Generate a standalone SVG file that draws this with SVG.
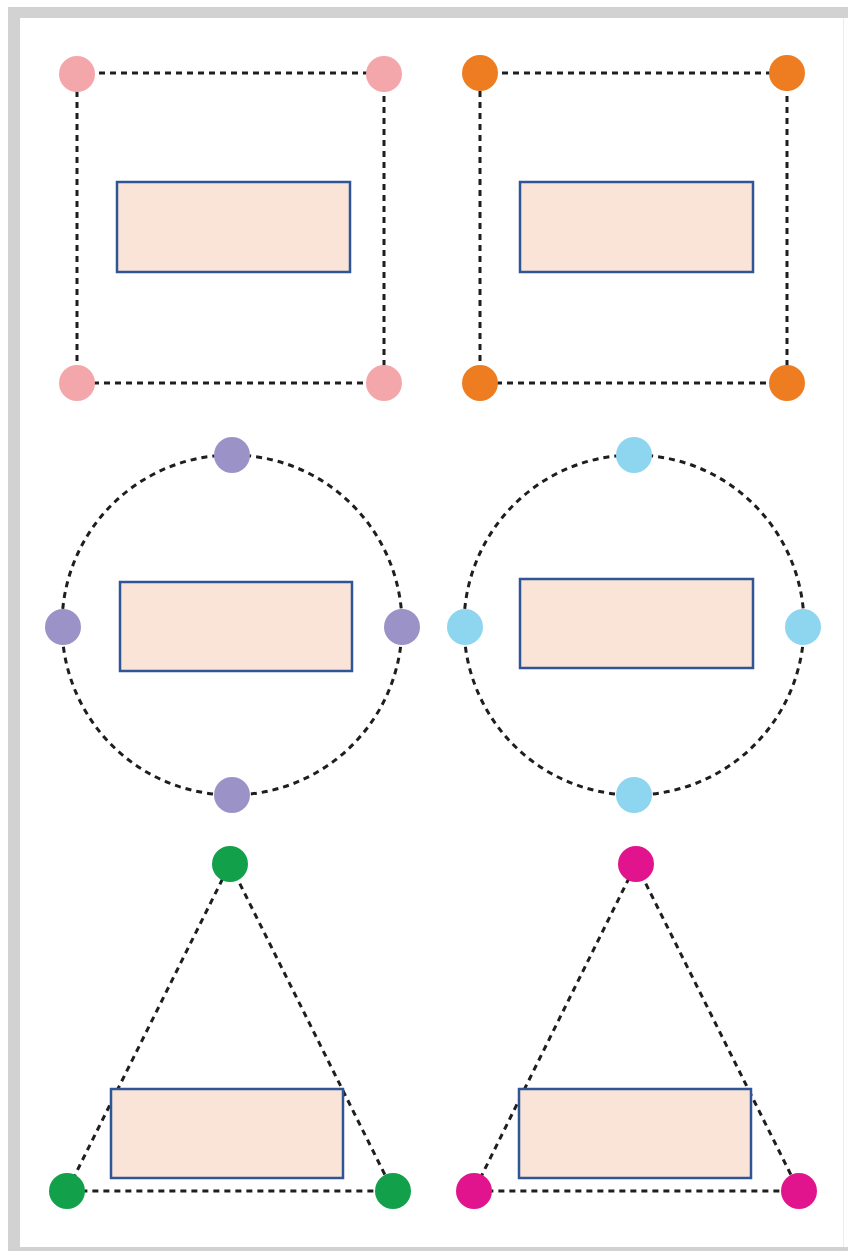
<svg xmlns="http://www.w3.org/2000/svg" width="848" height="1251" viewBox="0 0 848 1251">
<style>
.c{fill:none;stroke:#1e1e1e;stroke-width:3;stroke-dasharray:6 5;stroke-linecap:butt}
.b{fill:#FAE4D7;stroke:#2F5597;stroke-width:2.5}
.pink{fill:#F4A7AB}.orange{fill:#EE7D22}.purple{fill:#9B93C7}.blue{fill:#8ED6F0}.green{fill:#13A04B}.mag{fill:#E2148D}
</style>
<rect x="0" y="0" width="848" height="1251" fill="#ffffff"/>
<rect x="8" y="7" width="846" height="1250" fill="#D2D2D2"/>
<rect x="20" y="18" width="830" height="1229" fill="#ffffff"/>
<line x1="843.5" y1="18" x2="843.5" y2="1247" stroke="#ececec" stroke-width="1"/>
<g id="connectors">
<path class="c" d="M77 73H384V383H77Z"/>
<path class="c" d="M480 73H787V383H480Z"/>
<circle class="c" cx="232" cy="625" r="170"/>
<circle class="c" cx="634" cy="625" r="170"/>
<path class="c" d="M230 864L393 1191H67Z"/>
<path class="c" d="M636 864L799 1191H474Z"/>
</g>
<g id="panel1">
<rect class="b" x="117" y="182" width="233" height="90"/>
<circle class="pink" cx="77" cy="74" r="18"/><circle class="pink" cx="384" cy="74" r="18"/>
<circle class="pink" cx="77" cy="383" r="18"/><circle class="pink" cx="384" cy="383" r="18"/>
</g>
<g id="panel2">
<rect class="b" x="520" y="182" width="233" height="90"/>
<circle class="orange" cx="480" cy="73" r="18"/><circle class="orange" cx="787" cy="73" r="18"/>
<circle class="orange" cx="480" cy="383" r="18"/><circle class="orange" cx="787" cy="383" r="18"/>
</g>
<g id="panel3">
<rect class="b" x="120" y="582" width="232" height="89"/>
<circle class="purple" cx="232" cy="455" r="18"/><circle class="purple" cx="232" cy="795" r="18"/>
<circle class="purple" cx="63" cy="627" r="18"/><circle class="purple" cx="402" cy="627" r="18"/>
</g>
<g id="panel4">
<rect class="b" x="520" y="579" width="233" height="89"/>
<circle class="blue" cx="634" cy="455" r="18"/><circle class="blue" cx="634" cy="795" r="18"/>
<circle class="blue" cx="465" cy="627" r="18"/><circle class="blue" cx="803" cy="627" r="18"/>
</g>
<g id="panel5">
<rect class="b" x="111" y="1089" width="232" height="89"/>
<circle class="green" cx="230" cy="864" r="18"/><circle class="green" cx="67" cy="1191" r="18"/><circle class="green" cx="393" cy="1191" r="18"/>
</g>
<g id="panel6">
<rect class="b" x="519" y="1089" width="232" height="89"/>
<circle class="mag" cx="636" cy="864" r="18"/><circle class="mag" cx="474" cy="1191" r="18"/><circle class="mag" cx="799" cy="1191" r="18"/>
</g>
</svg>
